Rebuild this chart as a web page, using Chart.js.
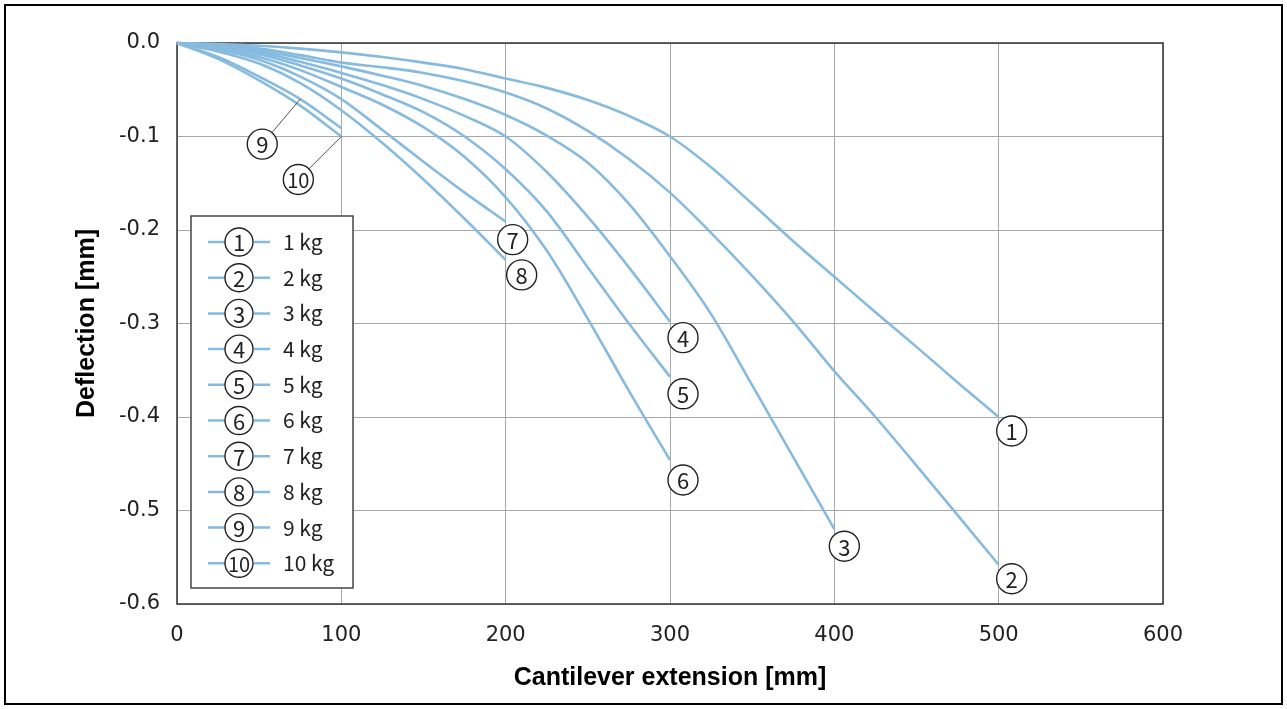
<!DOCTYPE html>
<html>
<head>
<meta charset="utf-8">
<title>Cantilever deflection</title>
<script src="https://cdn.jsdelivr.net/npm/chart.js@4.4.1/dist/chart.umd.min.js"></script>
<style>
  html, body { margin: 0; padding: 0; background: #fff; }
  #wrap { width: 1287px; height: 709px; }
</style>
</head>
<body>
<div id="wrap"><canvas id="deflectionChart" width="1287" height="709"></canvas></div>
<script>
// extension steps in mm, deflection in mm
const extension = [0, 25, 50, 75, 100, 125, 150, 175, 200, 225, 250, 275, 300, 325, 350, 375, 400, 425, 450, 475, 500];

const load1kg = [0, -0.001, -0.003, -0.006, -0.010, -0.015, -0.021, -0.028, -0.038, -0.048, -0.061, -0.078, -0.100, -0.133, -0.172, -0.212, -0.250, -0.288, -0.325, -0.363, -0.400];
const load2kg = [0, -0.002, -0.006, -0.013, -0.021, -0.026, -0.032, -0.041, -0.053, -0.070, -0.094, -0.124, -0.160, -0.203, -0.249, -0.298, -0.351, -0.400, -0.452, -0.505, -0.558];
const load3kg = [0, -0.003, -0.008, -0.016, -0.025, -0.035, -0.046, -0.060, -0.077, -0.099, -0.128, -0.172, -0.228, -0.290, -0.366, -0.443, -0.520];
const load4kg = [0, -0.004, -0.010, -0.020, -0.032, -0.045, -0.060, -0.078, -0.100, -0.138, -0.186, -0.240, -0.298];
const load5kg = [0, -0.005, -0.012, -0.024, -0.038, -0.055, -0.074, -0.100, -0.135, -0.180, -0.240, -0.300, -0.357];
const load6kg = [0, -0.006, -0.015, -0.029, -0.047, -0.066, -0.090, -0.122, -0.165, -0.222, -0.295, -0.372, -0.446];
const load7kg = [0, -0.007, -0.018, -0.036, -0.060, -0.093, -0.127, -0.160, -0.191];
const load8kg = [0, -0.009, -0.022, -0.043, -0.072, -0.107, -0.146, -0.188, -0.232];
const load9kg = [0, -0.015, -0.036, -0.060, -0.091];
const load10kg = [0, -0.017, -0.040, -0.067, -0.100];

const loads = [load1kg, load2kg, load3kg, load4kg, load5kg, load6kg, load7kg, load8kg, load9kg, load10kg];
const curveNumbers = ['1', '2', '3', '4', '5', '6', '7', '8', '9', '10'];
const legendLabels = ['1 kg', '2 kg', '3 kg', '4 kg', '5 kg', '6 kg', '7 kg', '8 kg', '9 kg', '10 kg'];

const xTicks = [0, 100, 200, 300, 400, 500, 600];
const yTicks = [0, -0.1, -0.2, -0.3, -0.4, -0.5, -0.6];
const yTickLabels = ['0.0', '-0.1', '-0.2', '-0.3', '-0.4', '-0.5', '-0.6'];

const LINE_COLOR = '#86bbdf';
const INK = '#222';

// where each numbered circle sits: point index on its curve + pixel offset
const circlePlacement = [
    { at: -1, dx: 13, dy: 14 },
    { at: -1, dx: 13, dy: 14 },
    { at: -1, dx: 10, dy: 17 },
    { at: -1, dx: 13, dy: 16 },
    { at: -1, dx: 13, dy: 17 },
    { at: -1, dx: 13, dy: 20 },
    { at: -1, dx: 7, dy: 18 },
    { at: -1, dx: 16, dy: 15 },
    { at: 3, dx: -38, dy: 45, leader: true },
    { at: -1, dx: -43, dy: 43, leader: true }
];

function drawCircleNum(ctx, cx, cy, r, txt, size) {
    ctx.beginPath();
    ctx.arc(cx, cy, r, 0, Math.PI * 2);
    ctx.fillStyle = '#fff';
    ctx.fill();
    ctx.lineWidth = 1.4;
    ctx.strokeStyle = INK;
    ctx.stroke();
    ctx.fillStyle = INK;
    ctx.font = size + 'px "Noto Sans CJK JP", "Noto Sans", sans-serif';
    ctx.textAlign = 'center';
    ctx.textBaseline = 'middle';
    ctx.fillText(txt, cx, cy + 1);
}

const decorations = {
    id: 'decorations',
    beforeDatasetsDraw(chart) {
        const { ctx, chartArea: a } = chart;
        ctx.save();
        ctx.strokeStyle = '#333';
        ctx.lineWidth = 1.5;
        ctx.strokeRect(a.left, a.top, a.right - a.left, a.bottom - a.top);
        ctx.restore();
    },
    afterDatasetsDraw(chart) {
        const { ctx, chartArea: a, scales: { x, y } } = chart;
        ctx.save();

        // numbered circles at the curve ends
        loads.forEach((vals, i) => {
            const p = circlePlacement[i];
            const idx = p.at < 0 ? vals.length - 1 : p.at;
            const px = x.getPixelForValue(extension[idx]);
            const py = y.getPixelForValue(vals[idx]);
            const cx = px + p.dx, cy = py + p.dy;
            const r = 15;
            if (p.leader) {
                const len = Math.hypot(p.dx, p.dy);
                ctx.beginPath();
                ctx.moveTo(px, py);
                ctx.lineTo(cx - p.dx / len * r, cy - p.dy / len * r);
                ctx.strokeStyle = '#555';
                ctx.lineWidth = 1;
                ctx.stroke();
            }
            drawCircleNum(ctx, cx, cy, r, curveNumbers[i], curveNumbers[i].length > 1 ? 20 : 22);
        });

        // legend box
        const bx = a.left + 14, by = a.top + 173, bw = 162, bh = 372;
        ctx.fillStyle = '#fff';
        ctx.fillRect(bx, by, bw, bh);
        ctx.strokeStyle = '#444';
        ctx.lineWidth = 1.5;
        ctx.strokeRect(bx, by, bw, bh);
        legendLabels.forEach((lbl, i) => {
            const cy = by + 26 + i * 35.7;
            ctx.strokeStyle = LINE_COLOR;
            ctx.lineWidth = 2.5;
            ctx.beginPath();
            ctx.moveTo(bx + 17, cy); ctx.lineTo(bx + 34, cy);
            ctx.moveTo(bx + 63, cy); ctx.lineTo(bx + 79, cy);
            ctx.stroke();
            drawCircleNum(ctx, bx + 48, cy, 14, curveNumbers[i], curveNumbers[i].length > 1 ? 20 : 22);
            ctx.fillStyle = INK;
            ctx.font = '21px "Noto Sans CJK JP", "Noto Sans", sans-serif';
            ctx.textAlign = 'left';
            ctx.textBaseline = 'middle';
            ctx.fillText(lbl, bx + 92, cy);
        });
        ctx.restore();
    },
    afterDraw(chart) {
        const ctx = chart.ctx;
        ctx.save();
        ctx.strokeStyle = '#000';
        ctx.lineWidth = 2;
        ctx.strokeRect(5, 5, 1277, 699);
        ctx.restore();
    }
};

const ctx = document.getElementById('deflectionChart').getContext('2d');

new Chart(ctx, {
    type: 'line',
    data: {
        datasets: loads.map((vals, i) => ({
            label: legendLabels[i],
            data: vals.map((v, j) => ({ x: extension[j], y: v })),
            borderColor: LINE_COLOR,
            borderWidth: 2.6,
            pointRadius: 0,
            fill: false,
            cubicInterpolationMode: 'monotone',
            clip: 6
        }))
    },
    options: {
        responsive: false,
        animation: false,
        layout: { padding: { top: 43, right: 124, left: 0, bottom: 0 } },
        plugins: {
            legend: { display: false },
            tooltip: { enabled: false }
        },
        scales: {
            x: {
                type: 'linear',
                min: 0,
                max: 600,
                afterFit: s => { s.height = 105; },
                afterBuildTicks: s => { s.ticks = xTicks.map(v => ({ value: v })); },
                border: { display: false },
                grid: { color: '#a8a8a8', lineWidth: 1, drawTicks: false },
                ticks: {
                    color: INK,
                    padding: 19,
                    font: { family: 'DejaVu Sans', size: 21 },
                    callback: v => String(v)
                },
                title: {
                    display: true,
                    text: 'Cantilever extension [mm]',
                    color: '#000',
                    font: { family: 'Liberation Sans', size: 25, weight: 'bold' },
                    padding: { top: 0, bottom: 16 }
                }
            },
            y: {
                type: 'linear',
                min: -0.6,
                max: 0,
                afterFit: s => { s.width = 177; },
                afterBuildTicks: s => { s.ticks = [...yTicks].sort((a, b) => a - b).map(v => ({ value: v })); },
                border: { display: false },
                grid: { color: '#a8a8a8', lineWidth: 1, drawTicks: false },
                ticks: {
                    color: INK,
                    padding: 17,
                    font: { family: 'DejaVu Sans', size: 21 },
                    callback: v => yTickLabels[yTicks.indexOf(v)]
                },
                title: {
                    display: true,
                    text: 'Deflection [mm]',
                    color: '#000',
                    font: { family: 'Liberation Sans', size: 25, weight: 'bold' },
                    padding: { top: 72, bottom: 0 }
                }
            }
        }
    },
    plugins: [decorations]
});
</script>
</body>
</html>
